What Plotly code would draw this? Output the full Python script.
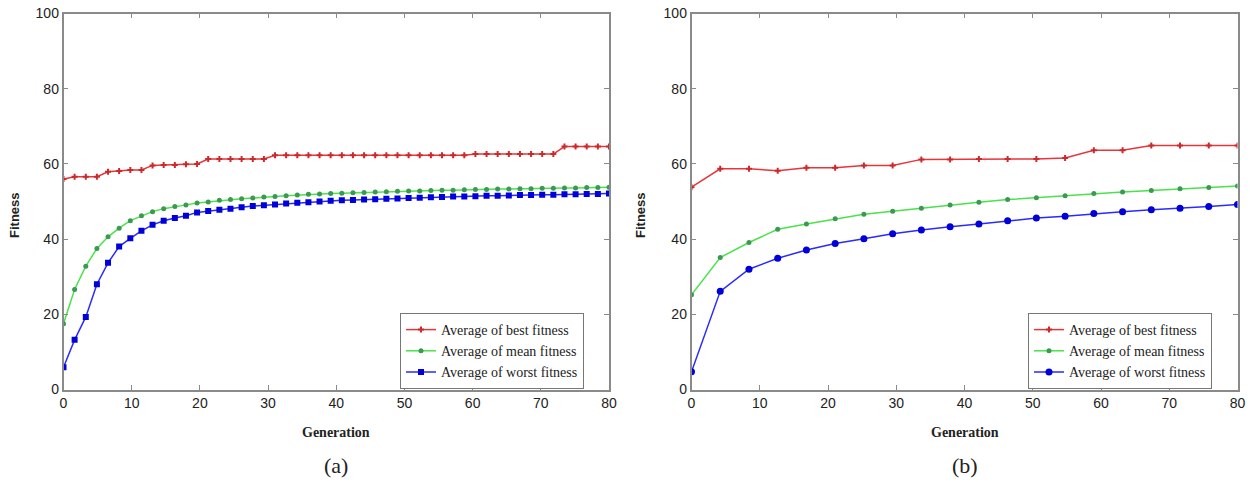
import plotly.graph_objects as go

# ---- data (a) ----
gen_a = [0, 1.63, 3.27, 4.9, 6.53, 8.16, 9.8, 11.43, 13.06, 14.69, 16.33, 17.96, 19.59,
         21.22, 22.86, 24.49, 26.12, 27.76, 29.39, 31.02, 32.65, 34.29, 35.92, 37.55,
         39.18, 40.82, 42.45, 44.08, 45.71, 47.35, 48.98, 50.61, 52.24, 53.88, 55.51,
         57.14, 58.78, 60.41, 62.04, 63.67, 65.31, 66.94, 68.57, 70.2, 71.84, 73.47,
         75.1, 76.73, 78.37, 80]
best_a = [56.0, 56.6, 56.6, 56.6, 57.9, 58.1, 58.4, 58.4, 59.6, 59.7, 59.7, 59.9, 60.0,
          61.3, 61.3, 61.3, 61.3, 61.3, 61.3,
          62.3, 62.3, 62.3, 62.3, 62.3, 62.3, 62.3, 62.3, 62.3, 62.3, 62.3, 62.3, 62.3,
          62.3, 62.3, 62.3, 62.3, 62.3,
          62.6, 62.6, 62.6, 62.6, 62.6, 62.6, 62.6, 62.6,
          64.6, 64.6, 64.6, 64.6, 64.6]
mean_a = [17.5, 26.6, 32.8, 37.5, 40.6, 42.9, 44.9, 46.2, 47.3, 48.1, 48.7, 49.1, 49.6,
          49.9, 50.3, 50.5, 50.7, 50.9, 51.2, 51.3, 51.5, 51.7, 51.9, 52.0, 52.1, 52.2,
          52.3, 52.4, 52.5, 52.6, 52.7, 52.8, 52.8, 52.9, 53.0, 53.0, 53.1, 53.2, 53.2,
          53.3, 53.3, 53.4, 53.4, 53.5, 53.5, 53.6, 53.6, 53.7, 53.7, 53.8]
worst_a = [5.9, 13.2, 19.3, 28.0, 33.7, 38.0, 40.2, 42.2, 43.8, 44.9, 45.6, 46.2, 47.1,
           47.5, 47.8, 48.1, 48.5, 48.8, 49.0, 49.2, 49.5, 49.7, 49.8, 50.0, 50.2, 50.3,
           50.4, 50.5, 50.6, 50.7, 50.8, 50.9, 51.0, 51.1, 51.2, 51.3, 51.3, 51.4, 51.5,
           51.5, 51.6, 51.7, 51.7, 51.8, 51.8, 51.9, 51.9, 52.0, 52.0, 52.1]

# ---- data (b) ----
gen_b = [0, 4.21, 8.42, 12.63, 16.84, 21.05, 25.26, 29.47, 33.68, 37.89, 42.11, 46.32,
         50.53, 54.74, 58.95, 63.16, 67.37, 71.58, 75.79, 80]
best_b = [53.8, 58.7, 58.7, 58.2, 59.0, 59.0, 59.6, 59.6, 61.2, 61.2, 61.3, 61.3, 61.3,
          61.6, 63.6, 63.6, 64.9, 64.9, 64.9, 64.9]
mean_b = [25.2, 35.1, 39.1, 42.6, 44.0, 45.4, 46.6, 47.4, 48.2, 49.1, 49.8, 50.5, 51.0,
          51.5, 52.1, 52.5, 52.9, 53.4, 53.7, 54.1]
worst_b = [4.7, 26.1, 32.0, 34.9, 37.1, 38.8, 40.1, 41.4, 42.4, 43.3, 44.0, 44.9, 45.6,
           46.1, 46.8, 47.3, 47.8, 48.2, 48.7, 49.2]

names = ["Average of best fitness", "Average of mean fitness", "Average of worst fitness"]
x_ticks = [0, 10, 20, 30, 40, 50, 60, 70, 80]
y_ticks = [0, 20, 40, 60, 80, 100]

RED, GREEN, BLUE = "#e8353a", "#4ae34a", "#2a2aff"
RED_M, GREEN_M, BLUE_M = "#cc2a2a", "#3a9a52", "#0000d8"

fig = go.Figure()

def add(x, y, name, line_c, mk_c, symbol, size, xa, ya, leg):
    fig.add_trace(go.Scatter(
        x=x, y=y, name=name, mode="lines+markers",
        line=dict(color=line_c, width=1.5),
        marker=dict(color=mk_c, symbol=symbol, size=size,
                    line=dict(width=0)),
        xaxis=xa, yaxis=ya, legend=leg))

add(gen_a, best_a, names[0], RED, RED_M, "cross", 5, "x", "y", "legend")
add(gen_a, mean_a, names[1], GREEN, GREEN_M, "circle", 5, "x", "y", "legend")
add(gen_a, worst_a, names[2], BLUE, BLUE_M, "square", 6, "x", "y", "legend")
add(gen_b, best_b, names[0], RED, RED_M, "cross", 5, "x2", "y2", "legend2")
add(gen_b, mean_b, names[1], GREEN, GREEN_M, "circle", 5, "x2", "y2", "legend2")
add(gen_b, worst_b, names[2], BLUE, BLUE_M, "circle", 7, "x2", "y2", "legend2")

W, H = 1251, 482
ybot = 1 - 389.5 / H
ytop = 1 - 13.5 / H

axis_common = dict(
    showline=True, linecolor="#8a8a8a", linewidth=1.5, mirror="ticks",
    ticks="inside", ticklen=5, tickcolor="#8a8a8a", tickwidth=1,
    showgrid=False, zeroline=False, automargin=False,
    tickfont=dict(family="Liberation Sans", size=14, color="#222222"),
)

leg_common = dict(
    xanchor="left", yanchor="top",
    bgcolor="white", bordercolor="#777777", borderwidth=1,
    font=dict(family="Liberation Serif", size=14, color="#222222"),
    itemwidth=30, tracegroupgap=0,
)

fig.update_layout(
    width=W, height=H,
    margin=dict(l=0, r=0, t=0, b=0, pad=0, autoexpand=False),
    paper_bgcolor="white", plot_bgcolor="white",
    xaxis=dict(domain=[63.5 / W, 609 / W], range=[0, 80], tickvals=x_ticks,
               anchor="y", **axis_common),
    yaxis=dict(domain=[ybot, ytop], range=[0, 100], tickvals=y_ticks,
               anchor="x", **axis_common),
    xaxis2=dict(domain=[691.5 / W, 1237.5 / W], range=[0, 80], tickvals=x_ticks,
                anchor="y2", **axis_common),
    yaxis2=dict(domain=[ybot, ytop], range=[0, 100], tickvals=y_ticks,
                anchor="x2", **axis_common),
    legend=dict(x=400 / W, y=1 - 313 / H, **leg_common),
    legend2=dict(x=1028 / W, y=1 - 313 / H, **leg_common),
)

ann = []
for cx, fx, lab in [((64 + 608) / 2, 15, "(a)"), ((692 + 1237) / 2, 641, "(b)")]:
    ann.append(dict(x=cx / W, y=1 - 432 / H, xref="paper", yref="paper",
                    xanchor="center", yanchor="middle",
                    text="<b>Generation</b>", showarrow=False,
                    font=dict(family="Liberation Serif", size=14, color="#222222")))
    ann.append(dict(x=cx / W, y=1 - 465 / H, xref="paper", yref="paper",
                    xanchor="center", yanchor="middle",
                    text=lab, showarrow=False,
                    font=dict(family="Liberation Serif", size=22, color="#222222")))
    ann.append(dict(x=fx / W, y=1 - 215 / H, xref="paper", yref="paper",
                    xanchor="center", yanchor="middle",
                    text="<b>Fitness</b>", showarrow=False, textangle=-90,
                    font=dict(family="Liberation Sans", size=13, color="#222222")))
fig.update_layout(annotations=ann)

fig.write_html("out.html")
